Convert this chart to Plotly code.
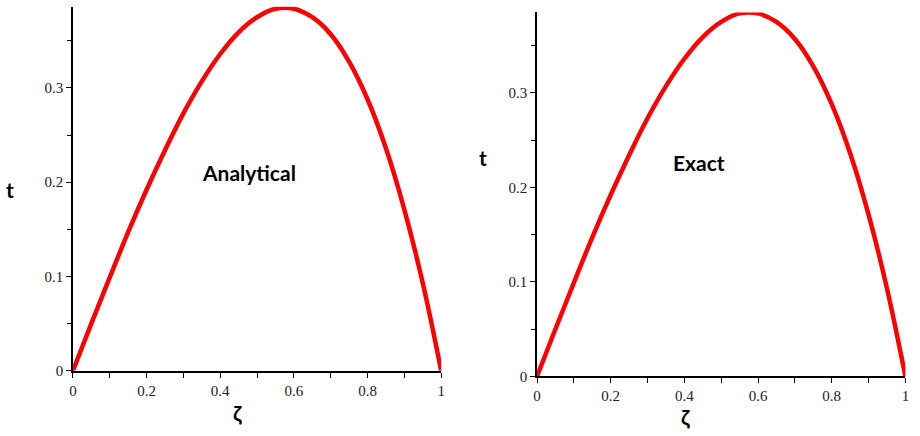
import plotly.graph_objects as go

# Data
zeta = [0, 0.05, 0.10, 0.15, 0.20, 0.25, 0.30, 0.35, 0.40, 0.45, 0.50,
        0.55, 0.60, 0.65, 0.70, 0.75, 0.80, 0.85, 0.90, 0.95, 1.00]
t_analytical = [0, 0.050, 0.099, 0.147, 0.192, 0.234, 0.273, 0.307, 0.336, 0.359, 0.375,
                0.384, 0.384, 0.375, 0.357, 0.328, 0.288, 0.236, 0.171, 0.093, 0]
t_exact = [0, 0.050, 0.099, 0.147, 0.192, 0.234, 0.273, 0.307, 0.336, 0.359, 0.375,
           0.384, 0.384, 0.375, 0.357, 0.328, 0.288, 0.236, 0.171, 0.093, 0]

W, H = 920, 436

def px(x):
    return x / W

def py(y):
    return 1 - y / H

fig = go.Figure()
fig.add_trace(go.Scatter(x=zeta, y=t_analytical, mode="lines",
                         line=dict(color="#ff0000", width=4.5, shape="spline"),
                         xaxis="x", yaxis="y", showlegend=False, cliponaxis=False))
fig.add_trace(go.Scatter(x=zeta, y=t_exact, mode="lines",
                         line=dict(color="#ff0000", width=4.5, shape="spline"),
                         xaxis="x2", yaxis="y2", showlegend=False, cliponaxis=False))

tickfont = dict(family="Liberation Serif", size=15, color="#222222")

def xaxis_cfg(domain, anchor):
    return dict(domain=domain, anchor=anchor, range=[0, 1], showgrid=False, zeroline=False,
                showline=True, linecolor="#000000", linewidth=1.5,
                tickmode="linear", tick0=0, dtick=0.2, ticks="outside", ticklen=5,
                tickcolor="#000000", tickfont=tickfont,
                minor=dict(dtick=0.1, tick0=0, ticks="outside", ticklen=5, tickcolor="#000000"))

def yaxis_cfg(domain, anchor, top):
    return dict(domain=domain, anchor=anchor, range=[0, top], showgrid=False, zeroline=False,
                showline=True, linecolor="#000000", linewidth=1.5,
                tickmode="linear", tick0=0, dtick=0.1, ticks="outside", ticklen=5,
                tickcolor="#000000", tickfont=tickfont,
                minor=dict(dtick=0.05, tick0=0, ticks="outside", ticklen=4, tickcolor="#000000"))

fig.update_layout(
    width=W, height=H,
    margin=dict(l=0, r=0, t=0, b=0),
    paper_bgcolor="white", plot_bgcolor="white",
    xaxis=xaxis_cfg([px(69.5), px(441)], "y"),
    yaxis=yaxis_cfg([py(377.7), py(7)], "x", 0.386),
    xaxis2=xaxis_cfg([px(537.7), px(909.3)], "y2"),
    yaxis2=yaxis_cfg([py(383.3), py(12.7)], "x2", 0.385),
)

labfont = dict(family="Lato", size=21, color="#000000")
ann = [
    ("<b>Analytical</b>", 246.7, 175.7),
    ("<b>Exact</b>", 700.7, 165.7),
    ("<b>t</b>", 6, 193),
    ("<b>t</b>", 483, 160),
    ("<b>ζ</b>", 235.5, 420),
    ("<b>ζ</b>", 687, 424),
]
for text, x, y in ann:
    fig.add_annotation(text=text, x=px(x), y=py(y), xref="paper", yref="paper",
                       showarrow=False, xanchor="center", yanchor="middle", font=labfont)

fig.write_html("out.html", config={"displayModeBar": False},
               post_script="document.body.style.margin='0';document.body.style.overflow='hidden';")
